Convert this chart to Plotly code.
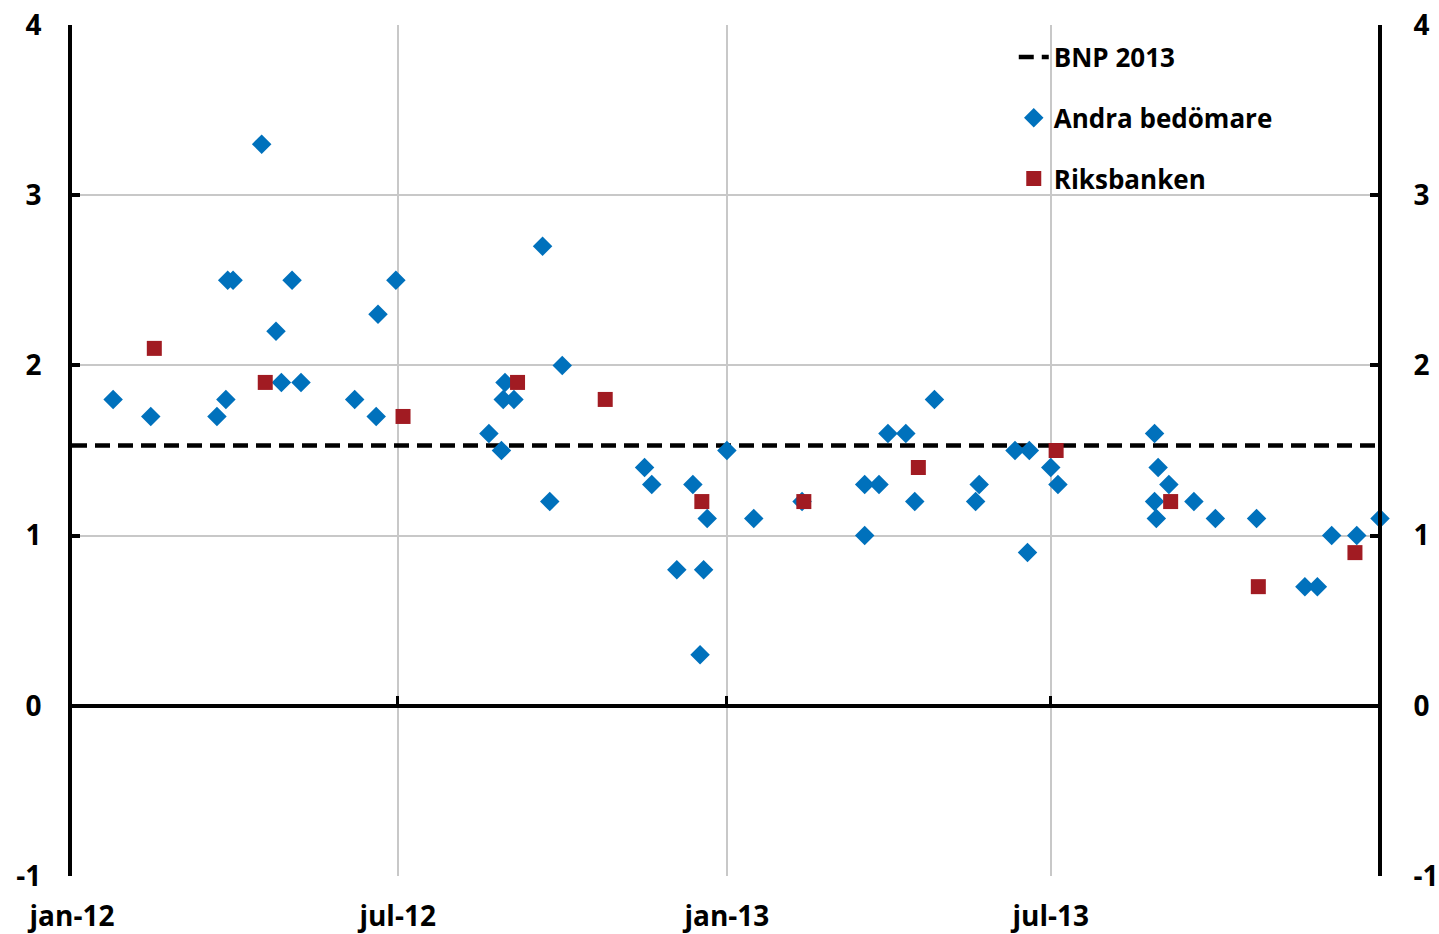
import plotly.graph_objects as go

# Andra bedömare (other forecasters), GDP 2013 forecast by publication date
andra_dates = [
    "2012-01-24", "2012-02-14", "2012-03-22", "2012-03-27", "2012-03-28", "2012-03-31",
    "2012-04-16", "2012-04-24", "2012-04-27", "2012-05-03", "2012-05-08", "2012-06-07",
    "2012-06-19", "2012-06-20", "2012-06-30", "2012-08-21", "2012-08-28", "2012-08-29",
    "2012-08-30", "2012-09-04", "2012-09-20", "2012-09-24", "2012-10-01", "2012-11-16",
    "2012-11-20", "2012-12-04", "2012-12-13", "2012-12-17", "2012-12-19", "2012-12-21",
    "2013-01-01", "2013-01-16", "2013-02-12", "2013-03-19", "2013-03-19", "2013-03-27",
    "2013-04-01", "2013-04-11", "2013-04-16", "2013-04-27", "2013-05-20", "2013-05-22",
    "2013-06-11", "2013-06-18", "2013-06-19", "2013-07-01", "2013-07-05", "2013-08-28",
    "2013-08-28", "2013-08-29", "2013-08-30", "2013-09-05", "2013-09-19", "2013-10-01",
    "2013-10-24", "2013-11-20", "2013-11-27", "2013-12-05", "2013-12-19", "2014-01-01",
]
andra_values = [
    1.8, 1.7, 1.7, 1.8, 2.5, 2.5,
    3.3, 2.2, 1.9, 2.5, 1.9, 1.8,
    1.7, 2.3, 2.5, 1.6, 1.5, 1.8,
    1.9, 1.8, 2.7, 1.2, 2.0, 1.4,
    1.3, 0.8, 1.3, 0.3, 0.8, 1.1,
    1.5, 1.1, 1.2, 1.3, 1.0, 1.3,
    1.6, 1.6, 1.2, 1.8, 1.2, 1.3,
    1.5, 0.9, 1.5, 1.4, 1.3, 1.6,
    1.2, 1.1, 1.4, 1.3, 1.2, 1.1,
    1.1, 0.7, 0.7, 1.0, 1.0, 1.1,
]

# Riksbanken forecasts
riks_dates = [
    "2012-02-16", "2012-04-18", "2012-07-04", "2012-09-06", "2012-10-25", "2012-12-18",
    "2013-02-13", "2013-04-18", "2013-07-04", "2013-09-06", "2013-10-25", "2013-12-18",
]
riks_values = [2.1, 1.9, 1.7, 1.9, 1.8, 1.2, 1.2, 1.4, 1.5, 1.2, 0.7, 0.9]

# Outcome BNP 2013
bnp_dates = ["2012-01-01", "2014-01-01"]
bnp_values = [1.53, 1.53]

tick_dates = ["2012-01-01", "2012-07-01", "2013-01-01", "2013-07-01"]
tick_labels = ["jan-12", "jul-12", "jan-13", "jul-13"]
y_ticks = [-1, 0, 1, 2, 3, 4]
y_labels = ["-1", "0", "1", "2", "3", "4"]

x_range = ["2012-01-01", "2014-01-01"]
y_range = [-1, 4]

FONT = "Open Sans"
BLUE = "#0071BC"
RED = "#A11B22"
GRID = "#C8C8C8"

fig = go.Figure()

fig.add_trace(go.Scatter(
    x=bnp_dates, y=bnp_values, mode="lines", name="BNP 2013",
    line=dict(color="black", width=4.5, dash="15px,8px"),
    legendgroup="a",
))
fig.add_trace(go.Scatter(
    x=andra_dates, y=andra_values, mode="markers", name="Andra bedömare",
    marker=dict(symbol="diamond", size=15, color=BLUE),
    xaxis="x2", yaxis="y2", legendgroup="b", cliponaxis=False,
))
fig.add_trace(go.Scatter(
    x=riks_dates, y=riks_values, mode="markers", name="Riksbanken",
    marker=dict(symbol="square", size=15, color=RED),
    xaxis="x2", yaxis="y2", legendgroup="c", cliponaxis=False,
))

tickfont = dict(family=FONT, size=28, color="black", weight="bold")

fig.update_layout(
    width=1439, height=934,
    plot_bgcolor="white", paper_bgcolor="white",
    margin=dict(l=72, r=59, t=25, b=58),
    showlegend=True,
    legend=dict(
        x=0.72, y=0.99, xanchor="left", yanchor="top",
        bgcolor="rgba(0,0,0,0)", borderwidth=0,
        font=dict(family=FONT, size=26, color="black", weight="bold"),
        traceorder="grouped", tracegroupgap=24,
    ),
    xaxis=dict(
        range=x_range, type="date", automargin=False,
        tickmode="array", tickvals=tick_dates, ticktext=tick_labels,
        showgrid=True, gridcolor=GRID, gridwidth=1.5,
        ticks="", showline=False, zeroline=False,
        tickfont=tickfont, ticklabelstandoff=21, ticklabeloverflow="allow",
    ),
    yaxis=dict(
        range=y_range, automargin=False,
        tickmode="array", tickvals=y_ticks, ticktext=y_labels,
        showgrid=True, gridcolor=GRID, gridwidth=1.5,
        showline=True, linecolor="black", linewidth=4,
        ticks="inside", ticklen=8, tickwidth=4, tickcolor="black",
        zeroline=False, tickfont=tickfont, ticklabelstandoff=21,
        ticklabeloverflow="allow",
    ),
    xaxis2=dict(
        range=x_range, type="date", overlaying="x", anchor="free", position=0.2,
        automargin=False,
        tickmode="array", tickvals=tick_dates,
        showticklabels=False, showgrid=False, zeroline=False,
        showline=True, linecolor="black", linewidth=4,
        ticks="inside", ticklen=8, tickwidth=3, tickcolor="black",
    ),
    yaxis2=dict(
        range=y_range, overlaying="y", side="right",
        anchor="free", position=1, automargin=False,
        tickmode="array", tickvals=y_ticks, ticktext=y_labels,
        showgrid=False, zeroline=False,
        showline=True, linecolor="black", linewidth=4,
        ticks="inside", ticklen=8, tickwidth=4, tickcolor="black",
        tickfont=tickfont, ticklabelstandoff=26, ticklabeloverflow="allow",
    ),
)

# drop the default 8px page margin so the figure fills the window exactly
fig.write_html(
    "out.html",
    config={"displayModeBar": False},
    post_script="document.body.style.margin = '0';",
)
